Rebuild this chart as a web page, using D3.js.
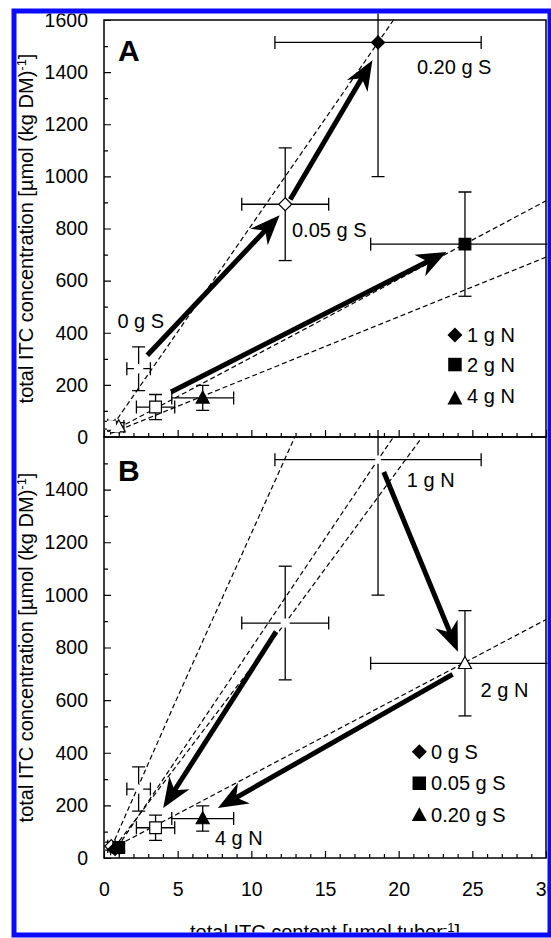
<!DOCTYPE html>
<html>
<head>
<meta charset="utf-8">
<script src="https://cdn.jsdelivr.net/npm/d3@7"></script>
<style>
  body { margin: 0; background: #fff; }
  svg { display: block; font-family: "Liberation Sans", Arial, sans-serif; }
</style>
</head>
<body>
<div id="app"></div>
<script>
// 9 treatments: N dose x S dose
const nDose = [1, 1, 1, 2, 2, 2, 4, 4, 4];
const sDose = [0, 0.05, 0.2, 0, 0.05, 0.2, 0, 0.05, 0.2];
const content = [2.35, 12.3, 18.6, 0.5, 3.5, 24.5, 0.75, 1.0, 6.7];      // µmol tuber-1
const contentErr = [0.8, 2.95, 7.0, 0.25, 1.3, 6.4, 0.3, 0.35, 2.1];
const conc = [262, 893, 1514, 45, 115, 740, 35, 40, 150];                // µmol (kg DM)-1
const concErr = [84, 216, 515, 15, 48, 200, 12, 15, 48];

const xTicks = [0, 5, 10, 15, 20, 25, 30];
const yTicksA = [0, 200, 400, 600, 800, 1000, 1200, 1400, 1600];
const yTicksB = [0, 200, 400, 600, 800, 1000, 1200, 1400];

const legendA = ["1 g N", "2 g N", "4 g N"];
const legendB = ["0 g S", "0.05 g S", "0.20 g S"];

// arrows [x0, y0, x1, y1] in data units
const arrowsA = [[2.94, 314, 11.92, 851], [12.64, 911, 18.22, 1446], [4.55, 173, 23.25, 710]];
const arrowsB = [[18.99, 1467, 24.02, 784], [11.68, 860, 4.02, 190], [23.66, 698, 7.73, 190]];

// dashed guide lines
const guidesA = [
  [[0.3, 20], [18.6, 1514], [19.65, 1600]],
  [[0.5, 20], [30, 906]],
  [[0.5, 15], [30, 690]]
];
const guidesB = [
  [[0.5, 40], [4.9, 600], [12.95, 1600]],
  [[0.7, 40], [12.3, 893], [21.6, 1600]],
  [[0.9, 40], [18.6, 1514], [19.65, 1600]],
  [[0.5, 35], [30, 906]]
];

const width = 551;
const height = 938;

const svg = d3.select('#app')
  .append('svg')
  .attr('width', width)
  .attr('height', height);

const defs = svg.append('defs');
const clip = (id, x, y, w, h) => defs.append('clipPath').attr('id', id)
  .append('rect').attr('x', x).attr('y', y).attr('width', w).attr('height', h);
clip('outer', 16.5, 13.5, 531, 919);
clip('plotA', 104, 20, 442, 417);
clip('plotB', 104, 437, 442, 421);
clip('errB', 0, 430, 551, 508);

const xScale = d3.scaleLinear().domain([0, 30]).range([104, 546]);
const yA = d3.scaleLinear().domain([0, 1600]).range([437, 20]);
const yB = d3.scaleLinear().domain([0, 1600]).range([858, 437]);

const root = svg.append('g').attr('clip-path', 'url(#outer)');

function markerPath(shape, r) {
  if (shape === 'diamond') return `M0,${-r}L${r},0L0,${r}L${-r},0Z`;
  if (shape === 'square') { const h = r * 0.9; return `M${-h},${-h}h${2 * h}v${2 * h}h${-2 * h}Z`; }
  return `M0,${-r * 1.05}L${r},${r * 0.8}L${-r},${r * 0.8}Z`;
}

function drawArrow(g, a, y) {
  const p0 = [xScale(a[0]), y(a[1])];
  const p1 = [xScale(a[2]), y(a[3])];
  const len = Math.hypot(p1[0] - p0[0], p1[1] - p0[1]);
  const u = [(p1[0] - p0[0]) / len, (p1[1] - p0[1]) / len];
  const v = [-u[1], u[0]];
  const L = 30, w = 12, n = 9;
  const back = [p1[0] - u[0] * (L - n), p1[1] - u[1] * (L - n)];
  g.append('line')
    .attr('x1', p0[0]).attr('y1', p0[1])
    .attr('x2', back[0] + u[0] * 2).attr('y2', back[1] + u[1] * 2)
    .attr('stroke', '#000').attr('stroke-width', 5);
  const b = [p1[0] - u[0] * L, p1[1] - u[1] * L];
  g.append('path')
    .attr('d', `M${p1[0]},${p1[1]}L${b[0] + v[0] * w},${b[1] + v[1] * w}L${back[0]},${back[1]}L${b[0] - v[0] * w},${b[1] - v[1] * w}Z`)
    .attr('fill', '#000');
}

function drawPanel(y, top, bottom, clipId, errClip, guides, arrows, shapeOf, fillOf) {
  const g = root.append('g');
  const pts = content.map((c, i) => ({ x: c, y: conc[i], ex: contentErr[i], ey: concErr[i], i }));

  // dashed guides
  const line = d3.line().x(d => xScale(d[0])).y(d => y(d[1]));
  g.append('g').attr('clip-path', `url(#${clipId})`)
    .selectAll('path').data(guides).enter().append('path')
    .attr('d', line).attr('fill', 'none').attr('stroke', '#000')
    .attr('stroke-width', 1.2).attr('stroke-dasharray', '5,3');

  // error bars
  const eb = g.append('g').attr('stroke', '#000').attr('stroke-width', 1.3);
  if (errClip) eb.attr('clip-path', `url(#${errClip})`);
  const cap = 6.5;
  pts.forEach(d => {
    const cx = xScale(d.x), cy = y(d.y);
    const x0 = xScale(d.x - d.ex), x1 = xScale(d.x + d.ex);
    const y0 = y(d.y - d.ey), y1 = y(d.y + d.ey);
    eb.append('line').attr('x1', x0).attr('x2', x1).attr('y1', cy).attr('y2', cy);
    eb.append('line').attr('x1', x0).attr('x2', x0).attr('y1', cy - cap).attr('y2', cy + cap);
    eb.append('line').attr('x1', x1).attr('x2', x1).attr('y1', cy - cap).attr('y2', cy + cap);
    eb.append('line').attr('x1', cx).attr('x2', cx).attr('y1', y0).attr('y2', y1);
    eb.append('line').attr('x1', cx - cap).attr('x2', cx + cap).attr('y1', y0).attr('y2', y0);
    eb.append('line').attr('x1', cx - cap).attr('x2', cx + cap).attr('y1', y1).attr('y2', y1);
  });

  // arrows
  const ag = g.append('g');
  arrows.forEach(a => drawArrow(ag, a, y));

  // markers
  const mg = g.append('g');
  const visible = pts.filter(d => fillOf(d.i) !== 'hidden');
  mg.selectAll('path').data(visible).enter().append('path')
    .attr('transform', d => `translate(${xScale(d.x)},${y(d.y)})`)
    .attr('d', d => markerPath(shapeOf(d.i), 6.5))
    .attr('fill', d => fillOf(d.i) === 'filled' ? '#000' : '#fff')
    .attr('stroke', '#000').attr('stroke-width', 1.2);
  // hidden points: white patch
  const hidden = pts.filter(d => fillOf(d.i) === 'hidden');
  mg.selectAll('path.hid').data(hidden).enter().append('path').attr('class', 'hid')
    .attr('transform', d => `translate(${xScale(d.x)},${y(d.y)})`)
    .attr('d', d => markerPath(shapeOf(d.i), 5))
    .attr('fill', '#fff');

  // frame
  g.append('rect').attr('x', xScale(0)).attr('y', y(1600))
    .attr('width', xScale(30) - xScale(0)).attr('height', y(0) - y(1600))
    .attr('fill', 'none').attr('stroke', '#000').attr('stroke-width', 1.5);

  // y axis
  const yAx = g.append('g').attr('transform', `translate(${xScale(0)},0)`)
    .call(d3.axisLeft(y).tickValues(top).tickSize(-7).tickPadding(16).tickFormat(d3.format('d')));
  yAx.select('.domain').remove();
  yAx.selectAll('text').attr('font-size', 19.5).attr('fill', '#000');
  g.append('g').attr('transform', `translate(${xScale(0)},0)`)
    .call(d3.axisLeft(y).tickValues(d3.range(100, 1600, 200)).tickSize(-4).tickFormat(''))
    .select('.domain').remove();

  // x ticks (inside, pointing up)
  const xAx = g.append('g').attr('transform', `translate(0,${y(0)})`)
    .call(d3.axisBottom(xScale).tickValues(xTicks).tickSize(-7).tickPadding(24).tickFormat(bottom ? d3.format('d') : ''));
  xAx.select('.domain').remove();
  xAx.selectAll('text').attr('font-size', 19.5).attr('fill', '#000');
  g.append('g').attr('transform', `translate(0,${y(0)})`)
    .call(d3.axisBottom(xScale).tickValues(d3.range(1, 30).filter(v => v % 5)).tickSize(-4).tickFormat(''))
    .select('.domain').remove();
  g.selectAll('.tick line').attr('stroke', '#000').attr('stroke-width', 1.2);
  g.selectAll('g').attr('font-family', null);
  return g;
}

const shapes = ['diamond', 'square', 'triangle'];
const nIdx = n => n === 1 ? 0 : n === 2 ? 1 : 2;
const sIdx = s => s === 0 ? 0 : s === 0.05 ? 1 : 2;

const gA = drawPanel(yA, yTicksA, false, 'plotA', null, guidesA, arrowsA,
  i => shapes[nIdx(nDose[i])],
  i => ['hidden', 'open', 'filled'][sIdx(sDose[i])]);

const gB = drawPanel(yB, yTicksB, true, 'plotB', 'errB', guidesB, arrowsB,
  i => shapes[sIdx(sDose[i])],
  i => ['hidden', 'open', 'filled'][nIdx(nDose[i])]);

// panel letters and annotations
const txt = (g, y, xv, yv, s, size, weight) => g.append('text')
  .attr('x', xScale(xv)).attr('y', y(yv))
  .attr('font-size', size).attr('font-weight', weight || 'normal').text(s);

txt(gA, yA, 0.95, 1441, 'A', 30, 'bold');
txt(gA, yA, 21.24, 1393, '0.20 g S', 20);
txt(gA, yA, 12.76, 767, '0.05 g S', 20);
txt(gA, yA, 0.91, 418, '0 g S', 20);

txt(gB, yB, 0.95, 1433, 'B', 30, 'bold');
txt(gB, yB, 20.55, 1410, legendA[0], 20);
txt(gB, yB, 25.56, 612, legendA[1], 20);
txt(gB, yB, 7.53, 49, legendA[2], 20);

// legends
function legend(g, y, labels, mY, tY) {
  labels.forEach((l, k) => {
    g.append('path')
      .attr('transform', `translate(${xScale(mY.x)},${y(mY.y[k])})`)
      .attr('d', markerPath(shapes[k], 7.5)).attr('fill', '#000');
    txt(g, y, tY.x, tY.y[k], l, 20);
  });
}
legend(gA, yA, legendA, { x: 23.82, y: [391, 278, 148] }, { x: 24.64, y: [365, 249, 130] });
legend(gB, yB, legendB, { x: 21.4, y: [404, 284, 163] }, { x: 22.2, y: [378, 258, 138] });

// axis titles
function yTitle(cy) {
  const t = root.append('text')
    .attr('transform', `translate(33,${cy}) rotate(-90)`)
    .attr('text-anchor', 'middle').attr('font-size', 20);
  t.append('tspan').text('total ITC concentration [µmol (kg DM)');
  t.append('tspan').attr('baseline-shift', 'super').attr('font-size', 13).text('-1');
  t.append('tspan').text(']');
}
yTitle((yA(0) + yA(1600)) / 2);
yTitle((yB(0) + yB(1600)) / 2);

const xt = root.append('text')
  .attr('x', (xScale(0) + xScale(30)) / 2).attr('y', 939)
  .attr('text-anchor', 'middle').attr('font-size', 20);
xt.append('tspan').text('total ITC content [µmol tuber');
xt.append('tspan').attr('baseline-shift', 'super').attr('font-size', 13).text('-1');
xt.append('tspan').text(']');

// blue border
svg.append('rect')
  .attr('x', 14).attr('y', 11).attr('width', 536).attr('height', 924)
  .attr('fill', 'none').attr('stroke', '#0a0aff').attr('stroke-width', 5);
</script>
</body>
</html>
